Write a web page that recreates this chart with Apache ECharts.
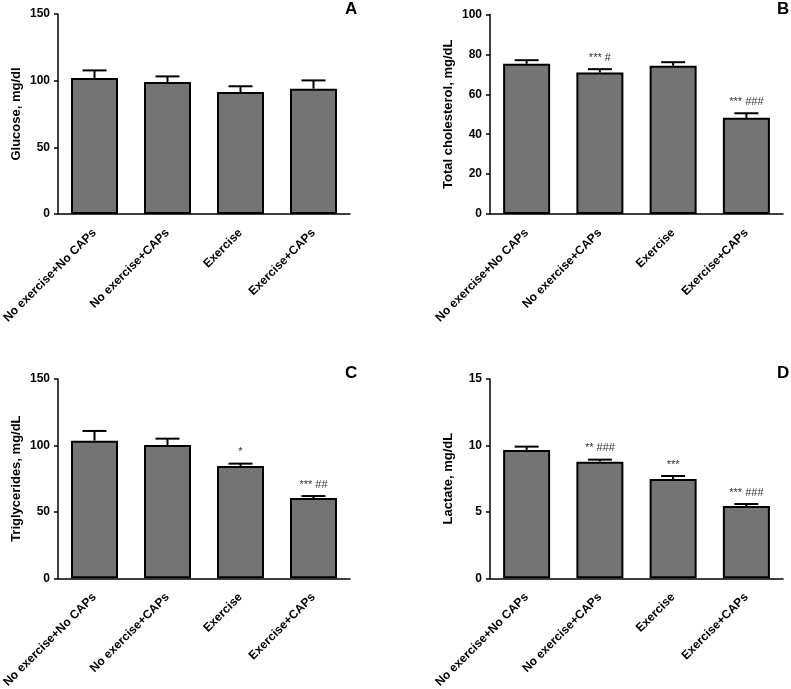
<!DOCTYPE html>
<html>
<head>
<meta charset="utf-8">
<script src="https://cdn.jsdelivr.net/npm/echarts@6/dist/echarts.min.js"></script>
<style>
html,body{margin:0;padding:0;background:#fff;}
#chart{width:791px;height:689px;}
</style>
</head>
<body>
<div id="chart"></div>
<script>
const categories = ['No exercise+No CAPs', 'No exercise+CAPs', 'Exercise', 'Exercise+CAPs'];

const glucoseMean = [102, 99, 91.5, 94];
const glucoseSem = [5.7, 4.2, 4.3, 6.2];
const glucoseSig = ['', '', '', ''];

const cholMean = [75.3, 70.9, 74.3, 48.2];
const cholSem = [1.8, 1.7, 1.8, 2.3];
const cholSig = ['', '*** #', '', '*** ###'];

const trigMean = [103.6, 100.3, 84.5, 60.4];
const trigSem = [7.3, 4.8, 1.8, 1.5];
const trigSig = ['', '', '*', '*** ##'];

const lactMean = [9.66, 8.78, 7.47, 5.44];
const lactSem = [0.25, 0.15, 0.23, 0.15];
const lactSig = ['', '** ###', '***', '*** ###'];

const panels = [
  {letter: 'A', title: 'Glucose, mg/dl', mean: glucoseMean, sem: glucoseSem, sig: glucoseSig, max: 150, interval: 50},
  {letter: 'B', title: 'Total cholesterol, mg/dL', mean: cholMean, sem: cholSem, sig: cholSig, max: 100, interval: 20},
  {letter: 'C', title: 'Triglycerides, mg/dL', mean: trigMean, sem: trigSem, sig: trigSig, max: 150, interval: 50},
  {letter: 'D', title: 'Lactate, mg/dL', mean: lactMean, sem: lactSem, sig: lactSig, max: 15, interval: 5}
];

const gridPos = [
  {left: 58, top: 14, width: 292, height: 200},
  {left: 490, top: 14.5, width: 293, height: 199.5},
  {left: 58, top: 379, width: 292, height: 199.3},
  {left: 490, top: 379, width: 293, height: 199.3}
];
const letterPos = [[352, 10], [784, 10], [352, 374], [784, 374]];

const FONT = 'Liberation Sans, Arial, sans-serif';

const grids = [], xAxes = [], yAxes = [], series = [], graphics = [];

panels.forEach((p, i) => {
  grids.push(Object.assign({containLabel: false, outerBoundsMode: 'none'}, gridPos[i]));
  xAxes.push({
    type: 'category', gridIndex: i, data: categories,
    axisLine: {lineStyle: {color: '#000', width: 1.5}},
    axisTick: {alignWithLabel: true, length: 5, lineStyle: {color: '#000', width: 1.5}},
    axisLabel: {rotate: 45, color: '#000', fontWeight: 'bold', fontSize: 12, fontFamily: FONT, margin: 17, interval: 0},
    splitLine: {show: false}
  });
  yAxes.push({
    type: 'value', gridIndex: i, min: 0, max: p.max, interval: p.interval,
    name: p.title, nameLocation: 'middle', nameGap: 35,
    nameTextStyle: {color: '#000', fontWeight: 'bold', fontSize: 13, fontFamily: FONT},
    axisLine: {show: true, onZero: false, lineStyle: {color: '#000', width: 1.5}},
    axisTick: {show: true, length: 4, lineStyle: {color: '#000', width: 1.5}},
    axisLabel: {color: '#000', fontWeight: 'bold', fontSize: 12, fontFamily: FONT, margin: 8},
    splitLine: {show: false}
  });
  series.push({
    type: 'bar', xAxisIndex: i, yAxisIndex: i, data: p.mean,
    barWidth: 47,
    itemStyle: {color: '#747474', borderColor: '#000', borderWidth: 2},
    silent: true, z: 2
  });
  const errData = p.mean.map((m, k) => [k, m, m + p.sem[k], p.sig[k]]);
  series.push({
    type: 'custom', xAxisIndex: i, yAxisIndex: i, data: errData, z: 1,
    renderItem: function (params, api) {
      const x = api.value(0);
      const base = api.coord([x, api.value(1)]);
      const top = api.coord([x, api.value(2)]);
      const half = 12;
      const children = [
        {type: 'line', shape: {x1: base[0], y1: base[1], x2: top[0], y2: top[1]}, style: {stroke: '#000', lineWidth: 2}},
        {type: 'line', shape: {x1: top[0] - half, y1: top[1], x2: top[0] + half, y2: top[1]}, style: {stroke: '#000', lineWidth: 2}}
      ];
      const sig = p.sig[params.dataIndex];
      if (sig) {
        children.push({type: 'text', x: top[0], y: top[1] - 6, style: {text: sig, fill: '#333', font: '11px ' + FONT, align: 'center', verticalAlign: 'bottom'}});
      }
      return {type: 'group', children: children};
    }
  });
  graphics.push({type: 'text', left: letterPos[i][0] - 7, top: letterPos[i][1] - 9,
    style: {text: p.letter, fill: '#000', font: 'bold 17px ' + FONT}});
});

const chart = echarts.init(document.getElementById('chart'), null, {renderer: 'canvas'});
chart.setOption({
  animation: false,
  backgroundColor: '#fff',
  grid: grids, xAxis: xAxes, yAxis: yAxes, series: series, graphic: graphics
});
</script>
</body>
</html>
